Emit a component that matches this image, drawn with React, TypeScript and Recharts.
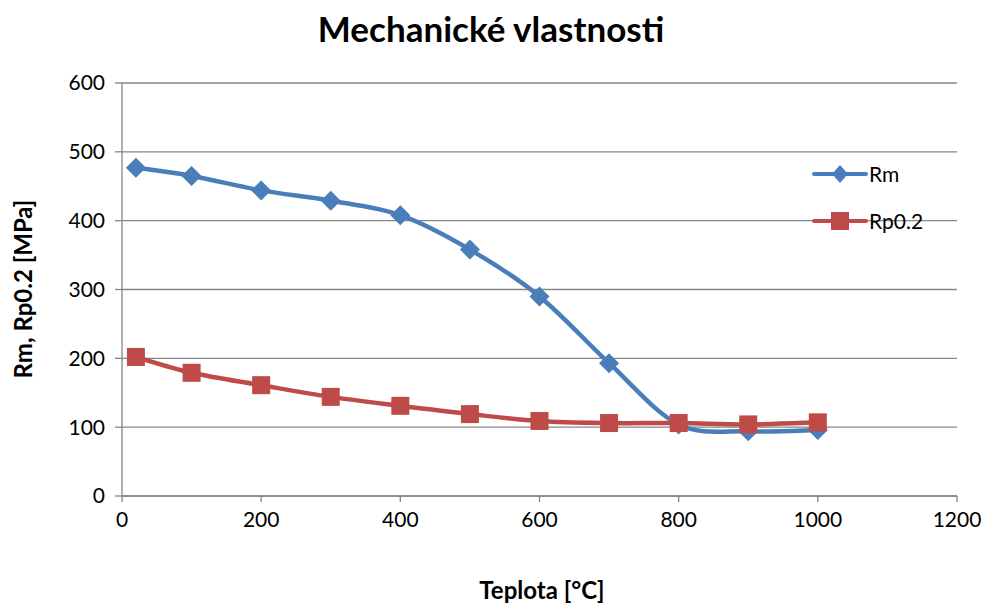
import { LineChart, Line, XAxis, YAxis, CartesianGrid } from "recharts";

const temperatures = [20, 100, 200, 300, 400, 500, 600, 700, 800, 900, 1000];
const rmValues = [477, 465, 444, 429, 408, 358, 290, 193, 104, 94, 96];
const rpValues = [202, 179, 161, 144, 131, 119, 109, 106, 106, 104, 107];
const xTicks = [0, 200, 400, 600, 800, 1000, 1200];
const yTicks = [0, 100, 200, 300, 400, 500, 600];

const BLUE = "#4a7ebb";
const RED = "#be4b48";
const AXIS = "#868686";
const FONT = "Lato, 'Open Sans', sans-serif";

const data = temperatures.map((t, i) => ({ t, rm: rmValues[i], rp: rpValues[i] }));

// smoothed line like spreadsheet "smooth" option (cubic bezier, catmull-rom style)
function smoothCurve(context: any) {
  let pts: [number, number][] = [];
  return {
    areaStart() {},
    areaEnd() {},
    lineStart() {
      pts = [];
    },
    point(x: number, y: number) {
      pts.push([+x, +y]);
    },
    lineEnd() {
      if (!pts.length) return;
      context.moveTo(pts[0][0], pts[0][1]);
      for (let i = 0; i < pts.length - 1; i++) {
        const p0 = pts[i - 1] || pts[i];
        const p1 = pts[i];
        const p2 = pts[i + 1];
        const p3 = pts[i + 2] || p2;
        const c1x = p1[0] + (p2[0] - p0[0]) / 6;
        const c1y = p1[1] + (p2[1] - p0[1]) / 6;
        const c2x = p2[0] - (p3[0] - p1[0]) / 6;
        const c2y = p2[1] - (p3[1] - p1[1]) / 6;
        context.bezierCurveTo(c1x, c1y, c2x, c2y, p2[0], p2[1]);
      }
    },
  };
}

const Diamond = (props: any) => {
  const { cx, cy, index } = props;
  if (cx == null || cy == null) return null;
  const r = 10;
  return (
    <path
      key={`d-${index}`}
      d={`M${cx},${cy - r}L${cx + r},${cy}L${cx},${cy + r}L${cx - r},${cy}Z`}
      fill={BLUE}
    />
  );
};

const Square = (props: any) => {
  const { cx, cy, index } = props;
  if (cx == null || cy == null) return null;
  const s = 9;
  return <rect key={`s-${index}`} x={cx - s} y={cy - s} width={s * 2} height={s * 2} fill={RED} />;
};

const legendItems = [
  { name: "Rm", color: BLUE, marker: "diamond" },
  { name: "Rp0.2", color: RED, marker: "square" },
];

const ChartLegend = () => (
  <div
    style={{
      position: "absolute",
      left: 812,
      top: 150,
      fontFamily: FONT,
      fontSize: 21,
      color: "#000",
    }}
  >
    {legendItems.map((it) => (
      <div key={it.name} style={{ display: "flex", alignItems: "center", height: 47 }}>
        <svg width={56} height={24}>
          <line x1={2} y1={12} x2={54} y2={12} stroke={it.color} strokeWidth={4} strokeLinecap="round" />
          {it.marker === "diamond" ? (
            <path d="M28,3L36,12L28,21L20,12Z" fill={it.color} />
          ) : (
            <rect x={19} y={3} width={18} height={18} fill={it.color} />
          )}
        </svg>
        <span style={{ marginLeft: 1 }}>{it.name}</span>
      </div>
    ))}
  </div>
);

export default function App() {
  return (
    <div
      style={{
        position: "absolute",
        left: 0,
        top: 0,
        width: 986,
        height: 603,
        overflow: "hidden",
        background: "#fff",
      }}
    >
      <LineChart
        width={986}
        height={603}
        data={data}
        margin={{ top: 83, right: 29, left: 30, bottom: 47 }}
        style={{ position: "absolute", left: 0, top: 0 }}
      >
        <CartesianGrid vertical={false} stroke={AXIS} strokeWidth={1.3} />
        <XAxis
          dataKey="t"
          type="number"
          domain={[0, 1200]}
          ticks={xTicks}
          height={60}
          stroke={AXIS}
          strokeWidth={1.3}
          tickSize={6}
          tickMargin={10}
          tick={{ fontSize: 21, fill: "#000", fontFamily: FONT }}
        />
        <YAxis
          type="number"
          domain={[0, 600]}
          ticks={yTicks}
          width={92}
          stroke={AXIS}
          strokeWidth={1.3}
          tickSize={7}
          tickMargin={10}
          tick={{ fontSize: 21, fill: "#000", fontFamily: FONT }}
        />
        <Line
          dataKey="rm"
          name="Rm"
          type={smoothCurve as any}
          stroke={BLUE}
          strokeWidth={4.5}
          dot={Diamond}
          activeDot={false}
          isAnimationActive={false}
        />
        <Line
          dataKey="rp"
          name="Rp0.2"
          type={smoothCurve as any}
          stroke={RED}
          strokeWidth={4.5}
          dot={Square}
          activeDot={false}
          isAnimationActive={false}
        />
      </LineChart>
      <ChartLegend />
      <div
        style={{
          position: "absolute",
          top: 28,
          left: 491,
          transform: "translate(-50%, -50%)",
          whiteSpace: "nowrap",
          fontFamily: FONT,
          fontWeight: 700,
          fontSize: 35,
        }}
      >
        Mechanické vlastnosti
      </div>
      <div
        style={{
          position: "absolute",
          left: 22,
          top: 289,
          transform: "translate(-50%, -50%) rotate(-90deg)",
          whiteSpace: "nowrap",
          fontFamily: FONT,
          fontWeight: 700,
          fontSize: 24,
        }}
      >
        Rm, Rp0.2 [MPa]
      </div>
      <div
        style={{
          position: "absolute",
          left: 542,
          top: 589,
          transform: "translate(-50%, -50%)",
          whiteSpace: "nowrap",
          fontFamily: FONT,
          fontWeight: 700,
          fontSize: 24,
        }}
      >
        Teplota [°C]
      </div>
    </div>
  );
}
